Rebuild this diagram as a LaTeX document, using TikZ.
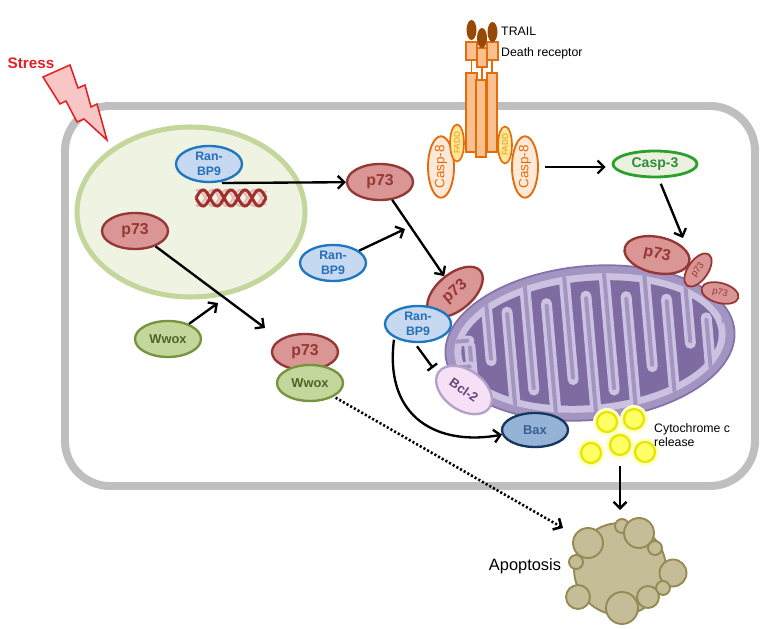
\documentclass[tikz,border=0pt]{standalone}
\usepackage{fontspec}
\setmainfont{Liberation Sans}
\usetikzlibrary{shapes.geometric,arrows.meta,calc}
\newdimen\px \px=0.03cm
\definecolor{cellgray}{HTML}{BFBFBF}
\definecolor{nucfill}{HTML}{EEF3E2}
\definecolor{nucline}{HTML}{C3D69B}
\definecolor{pfill}{HTML}{D99694}
\definecolor{pline}{HTML}{953735}
\definecolor{rfill}{HTML}{C6D9F1}
\definecolor{rline}{HTML}{1F77C0}
\definecolor{rtext}{HTML}{2470B8}
\definecolor{wfill}{HTML}{C3D69B}
\definecolor{wline}{HTML}{77933C}
\definecolor{wtext}{HTML}{4F6228}
\definecolor{cthreefill}{HTML}{EBF1DE}
\definecolor{cthreeline}{HTML}{2CA02C}
\definecolor{cthreetext}{HTML}{2E8B3E}
\definecolor{orline}{HTML}{E46C0A}
\definecolor{ceightfill}{HTML}{FDE9D9}
\definecolor{faddfill}{HTML}{FFE699}
\definecolor{faddtext}{HTML}{E89A00}
\definecolor{rcfill}{HTML}{FAC090}
\definecolor{trailc}{HTML}{984807}
\definecolor{bclfill}{HTML}{F6E0F5}
\definecolor{bclline}{HTML}{B3A2C7}
\definecolor{bcltext}{HTML}{5F497A}
\definecolor{baxfill}{HTML}{95B3D7}
\definecolor{baxline}{HTML}{17375E}
\definecolor{baxtext}{HTML}{366092}
\definecolor{mitoout}{HTML}{A394C2}
\definecolor{mitoline}{HTML}{8373AA}
\definecolor{mitoband}{HTML}{CBC1E0}
\definecolor{mitomat}{HTML}{7E6BA2}
\definecolor{cytfill}{HTML}{FFFF66}
\definecolor{cytline}{HTML}{E6E600}
\definecolor{cythalo}{HTML}{FFFFC8}
\definecolor{apofill}{HTML}{C4BD97}
\definecolor{apoline}{HTML}{948A54}
\definecolor{stressred}{HTML}{E31E24}
\definecolor{boltfill}{HTML}{F9C6C6}
\definecolor{dnadark}{HTML}{A0302E}
\definecolor{dnalight}{HTML}{E6B9B8}
\tikzset{
  prot/.style={ellipse, draw, line width=2pt, inner sep=0pt, minimum width=66\px, minimum height=36\px},
  pbox/.style={prot, fill=pfill, draw=pline, text=pline, font=\bfseries\fontsize{13.5}{15}\selectfont},
  psmall/.style={prot, fill=pfill, draw=pline, text=pline, line width=1.5pt, minimum width=38\px, minimum height=20\px, font=\fontsize{8}{9}\selectfont},
  rbox/.style={prot, fill=rfill, draw=rline, text=rtext, align=center, font=\bfseries\fontsize{10.5}{12.5}\selectfont},
  wbox/.style={prot, fill=wfill, draw=wline, text=wtext, font=\bfseries\fontsize{11}{13}\selectfont},
  cthree/.style={prot, fill=cthreefill, draw=cthreeline, text=cthreetext, line width=2.4pt, minimum width=84\px, minimum height=26\px, font=\bfseries\fontsize{12}{14}\selectfont},
  ceight/.style={prot, fill=ceightfill, draw=orline, text=orline, line width=1.6pt, minimum width=60\px, minimum height=26\px, rotate=90, font=\fontsize{11.5}{13}\selectfont},
  fadd/.style={prot, fill=faddfill, draw=orline, text=faddtext, line width=1.4pt, minimum width=37\px, minimum height=14\px, rotate=90, font=\fontsize{7}{8}\selectfont},
  bcl/.style={prot, fill=bclfill, draw=bclline, text=bcltext, minimum width=62\px, minimum height=40\px, font=\bfseries\fontsize{11}{13}\selectfont},
  bax/.style={prot, fill=baxfill, draw=baxline, text=baxtext, minimum width=66\px, minimum height=34\px, font=\bfseries\fontsize{11}{13}\selectfont},
  cyto/.style={circle, fill=cytfill, draw=cytline, line width=2pt, inner sep=0pt, minimum size=20\px},
  apob/.style={circle, fill=apofill, draw=apoline, line width=1.6pt, inner sep=0pt},
  rcbox/.style={fill=rcfill, draw=orline, line width=1.3pt},
  arr/.style={line width=2pt, -{Straight Barb[length=5.5pt, width=11pt]}},
  inh/.style={line width=2pt, -{Bar[width=10.2pt]}},
  dotarr/.style={line width=2.2pt, dash pattern=on 1.8pt off 1.8pt, -{Straight Barb[length=5.5pt, width=11pt]}},
  lbl/.style={inner sep=0pt, font=\fontsize{10.5}{13}\selectfont},
}
\begin{document}
\begin{tikzpicture}[x=0.03cm, y=-0.03cm]
\useasboundingbox (0,0) rectangle (772,629);

% cell membrane
\draw[cellgray, line width=6.8pt, rounded corners=1.35cm] (65,106) rectangle (755,486);

% nucleus
\draw[fill=nucfill, draw=nucline, line width=4.3pt] (191,212) ellipse [x radius=114, y radius=85];

% stress bolt
\draw[fill=boltfill, draw=stressred, line width=1.3pt, line join=miter]
  (43,77) -- (70,65) -- (78,88) -- (85,85) -- (91,107) -- (97,104) -- (107,140)
  -- (84,119) -- (77,122) -- (66,101) -- (60,104) -- cycle;
\node[inner sep=0pt, text=stressred, font=\bfseries\fontsize{13}{15}\selectfont] (stress) at (31,63) {Stress};

% DNA
\draw[dnalight, line width=1.8pt, domain=196:266, samples=80] plot (\x, {198+8*sin((\x-196)*12.857+60)});
\draw[dnalight, line width=1.8pt, domain=196:266, samples=80] plot (\x, {198-8*sin((\x-196)*12.857+60)});
\draw[dnadark, line width=2.6pt, domain=196:266, samples=80] plot (\x, {198+8*sin((\x-196)*12.857)});
\draw[dnadark, line width=2.6pt, domain=196:266, samples=80] plot (\x, {198-8*sin((\x-196)*12.857)});

% mitochondrion
\begin{scope}[rotate around={5:(590,343)}]
  \draw[fill=mitoout, draw=mitoline, line width=1.5pt] (590,343) ellipse [x radius=145, y radius=77];
  \fill[mitoband] (590,343) ellipse [x radius=136, y radius=69];
  \fill[mitomat] (590,343) ellipse [x radius=129, y radius=62];
  \begin{scope}
    \clip (590,343) ellipse [x radius=136, y radius=69];
    \foreach \xx/\yy in {490/352, 530/385, 570/378, 610/392, 650/372, 690/352, 725/335} {
      \draw[mitoband, line width=9.4pt, line cap=round] (\xx,255) -- (\xx,\yy);
      \draw[mitoout, line width=3.4pt, line cap=round] (\xx,255) -- (\xx,\yy-2);
    }
    \foreach \xx/\yy in {470/335, 510/305, 550/300, 590/296, 630/300, 670/306, 708/328} {
      \draw[mitoband, line width=9.4pt, line cap=round] (\xx,430) -- (\xx,\yy);
      \draw[mitoout, line width=3.4pt, line cap=round] (\xx,430) -- (\xx,\yy+2);
    }
    \foreach \yy in {330,356} {
      \draw[mitoband, line width=8.5pt, line cap=round] (440,\yy) -- (470,\yy);
      \draw[mitoout, line width=3.4pt, line cap=round] (440,\yy) -- (468,\yy);
    }
  \end{scope}
\end{scope}

% death receptor
\draw[rcbox] (466,73) rectangle (477,152);
\draw[rcbox] (487,73) rectangle (497,152);
\draw[rcbox] (476,80) rectangle (486,157);
\draw[orline, line width=1.5pt] (471.5,60) -- (471.5,73) (492,60) -- (492,73) (482,67) -- (482,80);
\draw[rcbox] (466,42) rectangle (477,60);
\draw[rcbox] (487,42) rectangle (498,60);
\draw[rcbox] (477,48) rectangle (487,67);
\fill[trailc] (482,38) ellipse [x radius=5, y radius=10];
\fill[trailc] (471.5,30) ellipse [x radius=5, y radius=10];
\fill[trailc] (492.5,32) ellipse [x radius=5, y radius=10];
\node[lbl, anchor=west] (trail) at (501,31) {TRAIL};
\node[lbl, anchor=west] (dr) at (501,53) {Death receptor};

\node[ceight] (c8l) at (441,167) {Casp-8};
\node[ceight] (c8r) at (525,167) {Casp-8};
\node[fadd] (faddl) at (457,143) {FADD};
\node[fadd] (faddr) at (505,145) {FADD};

% proteins
\node[rbox] (rbn) at (209,164) {Ran-\\BP9};
\node[pbox] (p73n) at (135,231) {p73};
\node[pbox] (p73a) at (380,182) {p73};
\node[rbox] (rbc) at (333,263) {Ran-\\BP9};
\node[wbox] (wwa) at (168,339) {Wwox};
\node[pbox] (p73w) at (305,352) {p73};
\node[wbox] (wwb) at (310,383) {Wwox};
\node[cthree] (c3) at (655,164) {Casp-3};
\node[pbox, rotate=40] (p73m) at (455,292) {p73};
\node[rbox] (rbm) at (418,324) {Ran-\\BP9};
\node[bcl, rotate=-35] (bcl) at (464,390) {Bcl-2};
\node[bax] (bax) at (535,430) {Bax};
\node[pbox, rotate=-12] (p73r) at (657,255) {p73};
\node[psmall, rotate=55] (p73s) at (698,270) {p73};
\node[psmall, rotate=-15] (p73t) at (720,293) {p73};

% cytochrome c
\foreach \n/\cx/\cy in {cyt1/607/422, cyt2/634/419, cyt3/620/445, cyt4/591/453, cyt5/645/452} {
  \fill[cythalo] (\cx,\cy) circle [radius=14];
  \node[cyto] (\n) at (\cx,\cy) {};
}
\node[lbl, anchor=west, align=left, font=\fontsize{10.5}{12}\selectfont] (cytlbl) at (654,435) {Cytochrome c\\release};

% apoptotic body
\node[apob, minimum size=92\px] (apo) at (620,569) {};
\foreach \n/\cx/\cy/\r in {ab1/622/526/14, ab2/639/533/30, ab3/588/543/30, ab4/655/548/14, ab5/576/562/14, ab6/673/573/27, ab7/663/588/14, ab8/648/597/22, ab9/578/597/24, ab10/622/608/32} {
  \node[apob, minimum size=\r\px] (\n) at (\cx,\cy) {};
}
\node[inner sep=0pt, font=\fontsize{14}{16}\selectfont] (apolbl) at (525,566) {Apoptosis};

% connectors
\coordinate (dnastart) at (222,183);
\coordinate (p73tgt) at (265,328);
\coordinate (wwtgt) at (218,303);
\coordinate (rantgt) at (405,229);
\coordinate (apotgt) at (563,528);
\coordinate (bcltgt) at (433,368);
\coordinate (cyttgt) at (620,510);
\coordinate (c3tgt) at (683,238);

\draw[arr] (dnastart) -- (p73a);
\draw[arr] (p73n) -- (p73tgt);
\draw[arr] (wwa) -- (wwtgt);
\draw[arr] (rbc) -- (rantgt);
\draw[arr] (p73a) -- (p73m);
\draw[arr, shorten <=5pt, shorten >=5pt] (c8r) -- (c3.west |- c8r);
\draw[arr, shorten <=5pt] (c3.-76) -- (c3tgt);
\draw[inh, shorten <=3.4pt] (rbm.-100) -- (bcltgt);
\draw[arr, shorten <=1.7pt] (rbm.-150) .. controls (384,420) and (440,446) .. (bax.188);
\draw[arr, shorten <=8.5pt] (cyt3) -- (cyttgt);
\draw[dotarr, shorten <=1.7pt] (wwb) -- (apotgt);
\end{tikzpicture}
\end{document}
